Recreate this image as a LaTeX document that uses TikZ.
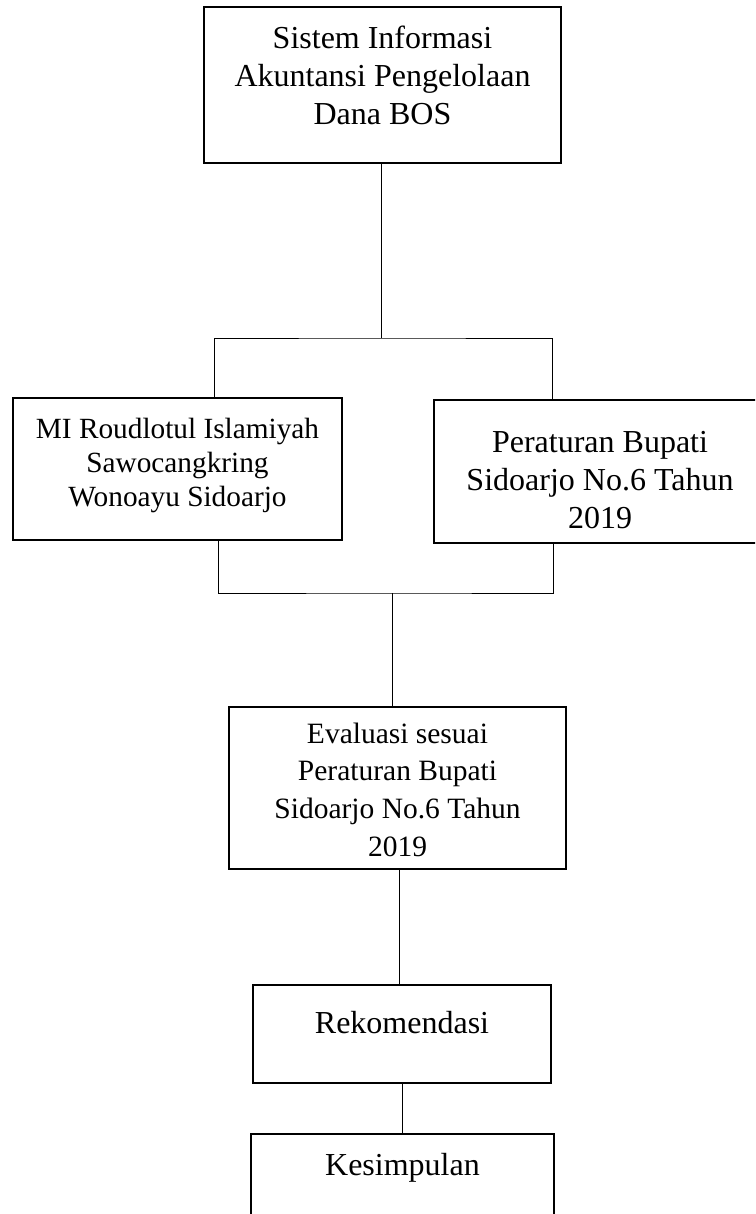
\documentclass[tikz,border=0pt]{standalone}
\usepackage{fontspec}
\setmainfont{Liberation Serif}
\tikzset{
	kotak/.style={draw, line width=2.8pt, inner sep=0pt, align=flush center, anchor=base, font=\fontsize{32}{38}\selectfont},
	garis/.style={line width=1pt}
}

\begin{document}
\begin{tikzpicture}[x=1pt,y=-1pt]
	\useasboundingbox (0,0) rectangle (755,1214);
	\clip (0,0) rectangle (755,1214);
	\node[kotak, text width=357pt, text height=42pt, text depth=114pt] (sistem) at (382.5,49) {Sistem Informasi\\Akuntansi Pengelolaan\\Dana BOS};
	\node[kotak, font=\fontsize{29.3}{34.3}\selectfont, text width=329pt, text height=40pt, text depth=102pt] (mi) at (177.5,438) {MI Roudlotul Islamiyah\\Sawocangkring\\Wonoayu Sidoarjo};
	\node[kotak, text width=332pt, text height=52pt, text depth=91pt] (perbup) at (600,452) {Peraturan Bupati\\Sidoarjo No.6 Tahun\\2019};
	\node[kotak, font=\fontsize{29.5}{37.8}\selectfont, text width=337pt, text height=36pt, text depth=126pt] (evaluasi) at (397.5,743) {Evaluasi sesuai\\Peraturan Bupati\\Sidoarjo No.6 Tahun\\2019};
	\node[kotak, text width=298pt, text height=48pt, text depth=50pt] (rekom) at (402,1033) {Rekomendasi};
	\node[kotak, text width=303pt, text height=41pt, text depth=70pt] (simpul) at (402.5,1175) {Kesimpulan};
	\coordinate (cabangA) at (381,338);
	\coordinate (cabangB) at (392,593);
	\draw[garis] (sistem.south -| cabangA) -- (cabangA);
	\draw[garis] ([xshift=36.5pt]mi.north) |- (cabangA) -| ([xshift=-48pt]perbup.north);
	\draw[garis] ([xshift=40.5pt]mi.south) |- (cabangB) -| ([xshift=-47pt]perbup.south);
	\draw[garis] (cabangB) -- (cabangB |- evaluasi.north);
	\draw[garis] ([xshift=1.5pt]evaluasi.south) -- ([xshift=1.5pt]evaluasi.south |- rekom.north);
	\draw[garis] (rekom.south) -- (rekom.south |- simpul.north);
\end{tikzpicture}
\end{document}
